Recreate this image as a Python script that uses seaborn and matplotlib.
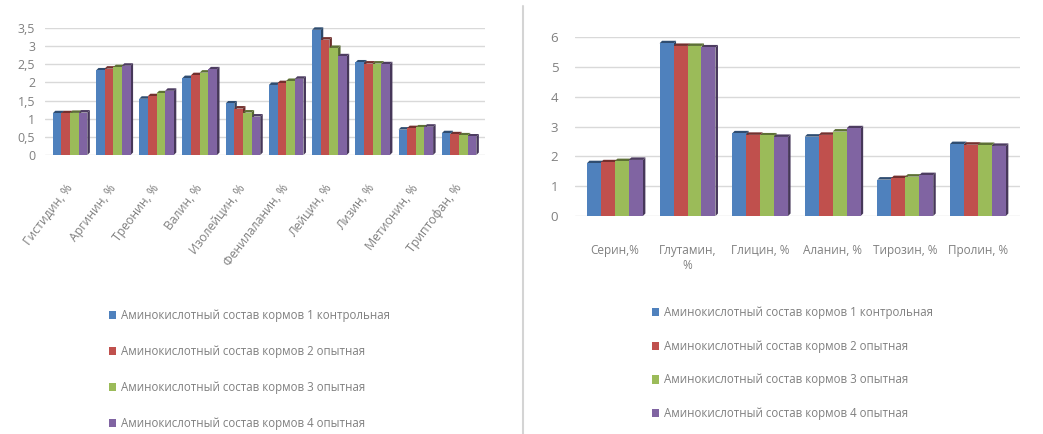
import matplotlib
matplotlib.use("Agg")
import numpy as np
import pandas as pd
import matplotlib.pyplot as plt
import seaborn as sns
from matplotlib.patches import Polygon, Patch
from matplotlib.lines import Line2D
from matplotlib.colors import to_rgb

# --- data -------------------------------------------------------------
essential = ["Гистидин, %", "Аргинин, %", "Треонин, %", "Валин, %",
             "Изолейцин, %", "Фенилаланин, %", "Лейцин, %", "Лизин, %",
             "Метионин, %", "Триптофан, %"]
ess_g1 = [1.15, 2.33, 1.55, 2.12, 1.42, 1.93, 3.45, 2.55, 0.70, 0.60]
ess_g2 = [1.15, 2.38, 1.62, 2.20, 1.28, 1.98, 3.18, 2.52, 0.74, 0.57]
ess_g3 = [1.16, 2.42, 1.70, 2.27, 1.17, 2.04, 2.95, 2.52, 0.76, 0.54]
ess_g4 = [1.17, 2.46, 1.77, 2.36, 1.06, 2.10, 2.72, 2.50, 0.78, 0.51]

nonessential = ["Серин,%", "Глутамин,\n%", "Глицин, %", "Аланин, %",
                "Тирозин, %", "Пролин, %"]
non_g1 = [1.77, 5.79, 2.77, 2.66, 1.22, 2.41]
non_g2 = [1.80, 5.70, 2.72, 2.72, 1.27, 2.39]
non_g3 = [1.84, 5.70, 2.70, 2.83, 1.32, 2.38]
non_g4 = [1.88, 5.65, 2.65, 2.94, 1.37, 2.35]

groups = ["Аминокислотный состав кормов 1 контрольная",
          "Аминокислотный состав кормов 2 опытная",
          "Аминокислотный состав кормов 3 опытная",
          "Аминокислотный состав кормов 4 опытная"]
colors = ["#4F81BD", "#C0504D", "#9BBB59", "#8064A2"]

left_ticks = [0, 0.5, 1, 1.5, 2, 2.5, 3, 3.5]
right_ticks = [0, 1, 2, 3, 4, 5, 6]


def long_table(cats, series):
    rows = []
    for g, vals in zip(groups, series):
        for c, v in zip(cats, vals):
            rows.append({"amino": c, "group": g, "value": v})
    return pd.DataFrame(rows)


df_left = long_table(essential, [ess_g1, ess_g2, ess_g3, ess_g4])
df_right = long_table(nonessential, [non_g1, non_g2, non_g3, non_g4])

# --- style ------------------------------------------------------------
sns.set_theme(style="white")
plt.rcParams["font.family"] = ["Open Sans", "DejaVu Sans"]
TXT = "#808080"
GRID = "#d9d9d9"

W, H = 1043, 434
fig = plt.figure(figsize=(W / 100, H / 100), dpi=100)
fig.patch.set_facecolor("white")

axL = fig.add_axes([45 / W, 1 - 155 / H, 440 / W, 127 / H])
axR = fig.add_axes([575 / W, 1 - 216 / H, 445 / W, 179 / H])


def add_depth(ax, px=2.5):
    """Give each column a shaded top and right face for a boxed look."""
    x0l, x1l = ax.get_xlim()
    y0l, y1l = ax.get_ylim()
    bbox = ax.get_window_extent()
    dx = px * (x1l - x0l) / bbox.width
    dy = px * (y1l - y0l) / bbox.height
    for p in list(ax.patches):
        x0, w, h = p.get_x(), p.get_width(), p.get_height()
        if w <= 0 or h <= 0:
            continue
        x1 = x0 + w
        base = np.array(to_rgb(p.get_facecolor()))
        top = Polygon([(x0, h), (x1, h), (x1 + dx, h + dy), (x0 + dx, h + dy)],
                      closed=True, facecolor=base * 0.6, edgecolor="none",
                      zorder=0.9, clip_on=False)
        side = Polygon([(x1, 0), (x1 + dx, dy), (x1 + dx, h + dy), (x1, h)],
                       closed=True, facecolor=base * 0.55, edgecolor="none",
                       zorder=0.9, clip_on=False)
        ax.add_patch(top)
        ax.add_patch(side)


def style_axes(ax, ticks, ylim, xlim, ypad, fs):
    ax.set_ylim(*ylim)
    ax.set_xlim(*xlim)
    ax.set_yticks(ticks)
    ax.set_yticklabels([f"{t:g}".replace(".", ",") for t in ticks])
    ax.tick_params(axis="y", length=0, pad=ypad, labelsize=fs, labelcolor=TXT)
    ax.yaxis.grid(True, color=GRID, lw=1.0)
    ax.set_axisbelow(True)
    for s in ax.spines.values():
        s.set_visible(False)
    ax.set_xlabel("")
    ax.set_ylabel("")
    ax.set_facecolor("none")


# left panel: essential amino acids
sns.barplot(data=df_left, x="amino", y="value", hue="group", palette=colors,
            width=0.8, saturation=1, linewidth=0, legend=False, ax=axL)
style_axes(axL, left_ticks, (0, 3.5), (-0.58, 9.6), 7, 9)
axL.tick_params(axis="x", length=0, pad=22, labelsize=8.8, labelcolor=TXT)
for lab in axL.get_xticklabels():
    lab.set_rotation(53)
    lab.set_ha("right")
    lab.set_va("center")
    lab.set_rotation_mode("anchor")
add_depth(axL)

# right panel: non-essential amino acids
sns.barplot(data=df_right, x="amino", y="value", hue="group", palette=colors,
            width=0.77, saturation=1, linewidth=0, legend=False, ax=axR)
style_axes(axR, right_ticks, (0, 6), (-0.55, 5.58), 12, 9.5)
axR.tick_params(axis="x", length=0, pad=20, labelsize=8.5, labelcolor=TXT)
for lab in axR.get_xticklabels():
    lab.set_ha("center")
    lab.set_multialignment("center")
add_depth(axR)

# legends
handles = [Patch(facecolor=c, edgecolor="none") for c in colors]
leg_kw = dict(frameon=False, handlelength=0.6, handleheight=0.7,
              handletextpad=0.4, fontsize=8.3, labelcolor=TXT, borderpad=0,
              borderaxespad=0)
fig.legend(handles, groups, loc="upper left",
           bbox_to_anchor=(109 / W, 1 - 309 / H), labelspacing=2.0, **leg_kw)
fig.legend(handles, groups, loc="upper left",
           bbox_to_anchor=(652 / W, 1 - 306 / H), labelspacing=1.8, **leg_kw)

# panel separator
fig.add_artist(Line2D([523 / W, 523 / W], [0, 1 - 6 / H],
                      transform=fig.transFigure, color="#d4d4d4", lw=1.5))

fig.savefig("out.png", dpi=100, facecolor="white")
